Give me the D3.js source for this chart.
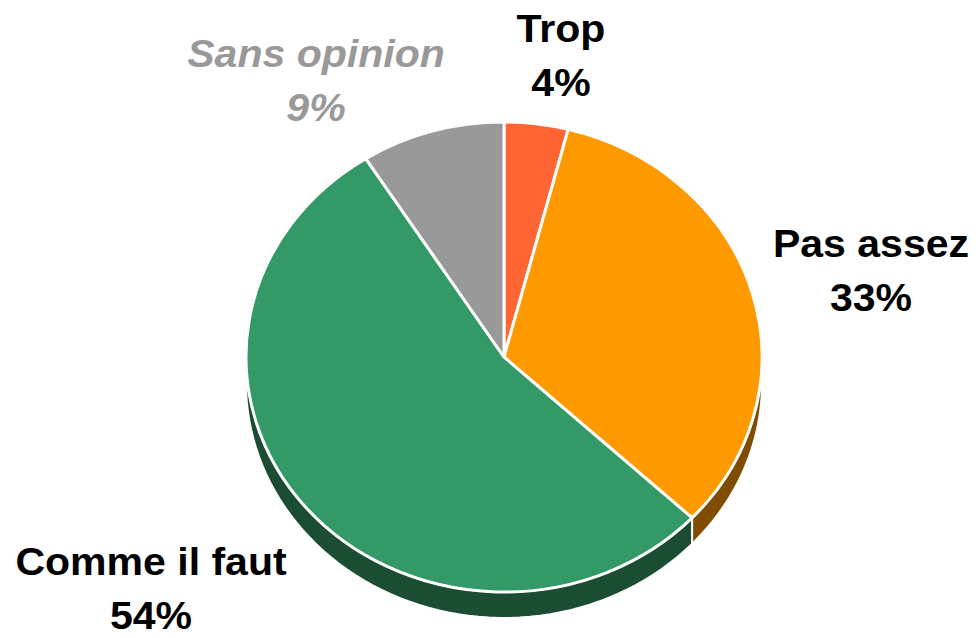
<!DOCTYPE html>
<html>
<head>
<meta charset="utf-8">
<script src="https://cdn.jsdelivr.net/npm/d3@7"></script>
<style>
  html, body { margin: 0; padding: 0; background: #ffffff; }
  svg { display: block; }
  text { font-family: "Liberation Sans", Arial, sans-serif; font-weight: bold; }
</style>
</head>
<body>
<svg id="viz" width="978" height="638"></svg>
<script>
// data
var categories = ["Trop", "Pas assez", "Comme il faut", "Sans opinion"];
var values = [4, 33, 54, 9];
var colors = ["#ff6633", "#ff9900", "#339966", "#999999"];
var sideColors = ["#803319", "#7f4c00", "#1b4d33", "#4d4d4d"];
var labelColors = ["#000000", "#000000", "#000000", "#999999"];

function drawPie() {
	var width = 978;
	var height = 638;
	var cx = 504, cy = 357;
	var rx = 258, ry = 235;
	var depth = 26;

	var svg = d3.select("#viz");

	var pie = d3.pie().sort(null).value(function (d) { return d; });
	var slices = pie(values);

	function pt(a, dy) {
		return [cx + rx * Math.sin(a), cy - ry * Math.cos(a) + (dy || 0)];
	}

	// side walls, only the front half (90deg to 270deg) can be seen
	var line = d3.line();
	var sides = svg.append("g").attr("class", "sides");
	slices.forEach(function (s, i) {
		var a0 = Math.max(s.startAngle, Math.PI / 2);
		var a1 = Math.min(s.endAngle, Math.PI * 1.5);
		if (a1 <= a0) return;
		var pts = [];
		var n = 60;
		for (var k = 0; k <= n; k++) pts.push(pt(a0 + (a1 - a0) * k / n, 0));
		for (var k = n; k >= 0; k--) pts.push(pt(a0 + (a1 - a0) * k / n, depth));
		sides.append("path")
			.attr("d", line(pts) + "Z")
			.attr("fill", sideColors[i])
			.attr("stroke", "#ffffff")
			.attr("stroke-width", 2)
			.attr("stroke-linejoin", "round");
	});

	// top face: circular arcs squashed into an ellipse
	var arc = d3.arc().innerRadius(0).outerRadius(rx);
	var top = svg.append("g")
		.attr("transform", "translate(" + cx + "," + cy + ") scale(1," + (ry / rx) + ")");
	top.selectAll("path")
		.data(slices)
		.enter().append("path")
		.attr("d", arc)
		.attr("fill", function (d, i) { return colors[i]; })
		.attr("stroke", "#ffffff")
		.attr("stroke-width", 3)
		.attr("stroke-linejoin", "round")
		.attr("vector-effect", "non-scaling-stroke");

	// labels
	var labelPos = [
		{ x: 561, y: 42 },
		{ x: 871, y: 257 },
		{ x: 151, y: 575 },
		{ x: 316, y: 67 }
	];
	var lineGap = 54;
	var lbl = svg.append("g").attr("class", "labels");
	slices.forEach(function (s, i) {
		var g = lbl.append("g")
			.attr("transform", "translate(" + labelPos[i].x + "," + labelPos[i].y + ") scale(1.08,1)");
		var t = g.append("text")
			.attr("text-anchor", "middle")
			.attr("fill", labelColors[i])
			.style("font-size", "38px")
			.style("font-style", i === 3 ? "italic" : "normal");
		t.append("tspan").attr("x", 0).attr("y", 0).text(categories[i]);
		t.append("tspan").attr("x", 0).attr("y", lineGap).text(values[i] + "%");
	});
}

drawPie();
</script>
</body>
</html>
